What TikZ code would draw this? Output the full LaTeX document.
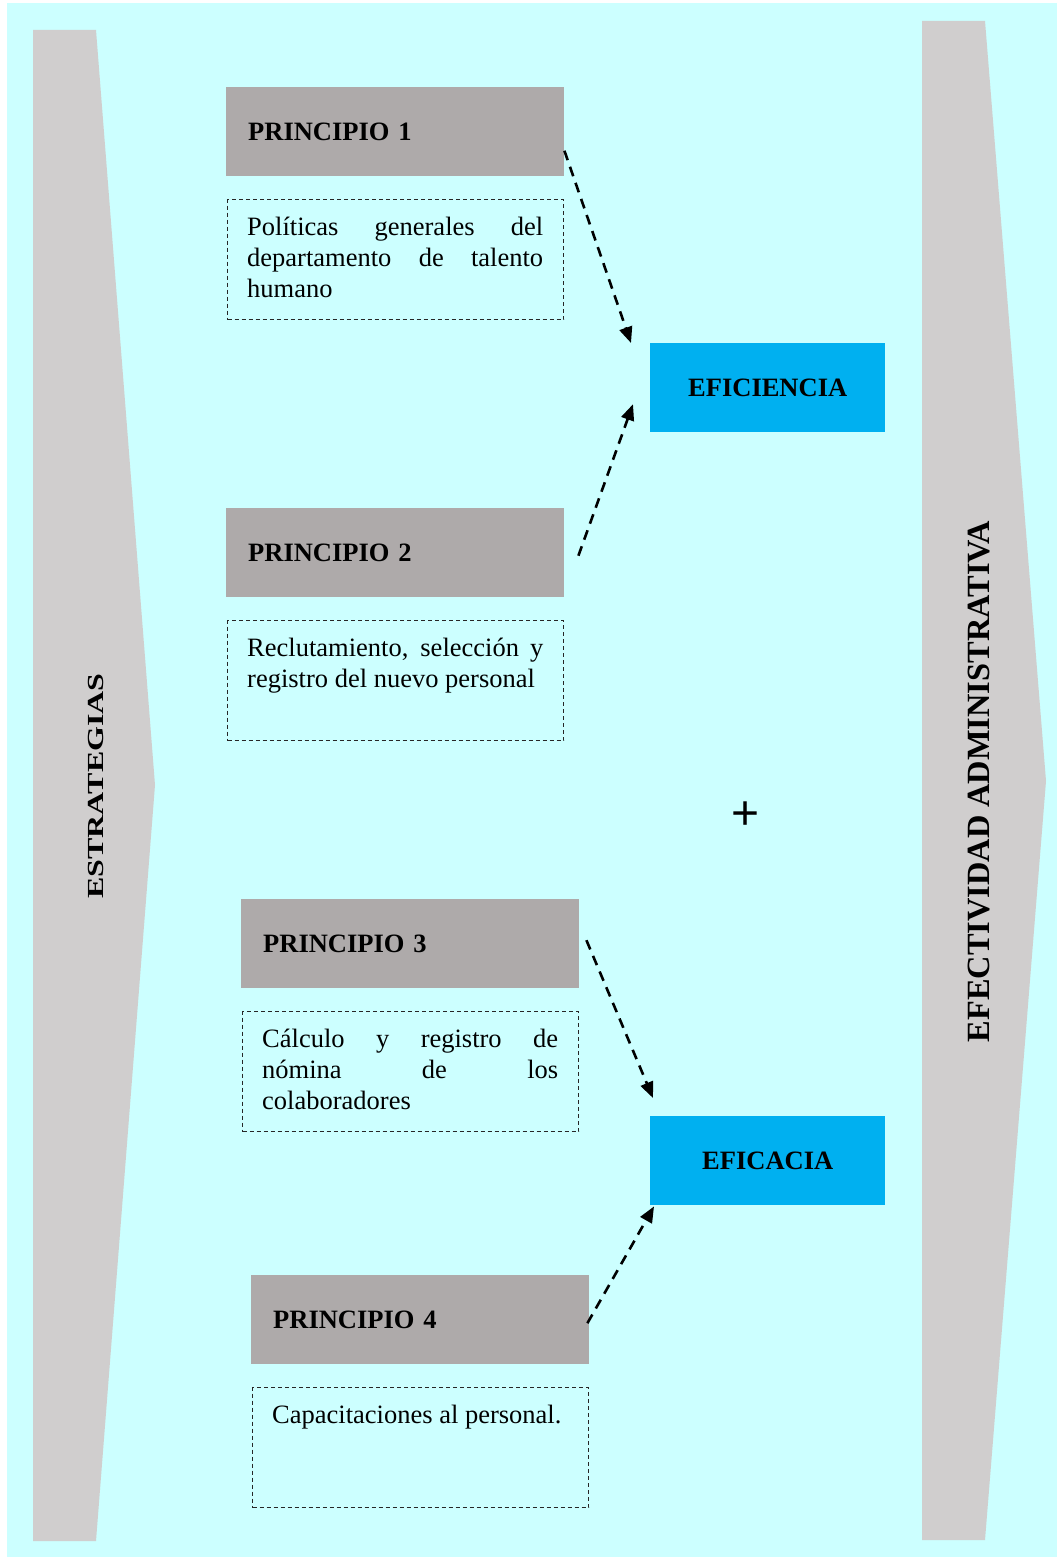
\documentclass[tikz,border=0pt]{standalone}
\usepackage{fontspec}
\setmainfont{Liberation Serif}
\newfontfamily\plusfont{Liberation Sans}
\usetikzlibrary{arrows.meta,calc}

\definecolor{bgcyan}{HTML}{CCFFFF}
\definecolor{bandgray}{HTML}{D0CECE}
\definecolor{princgray}{HTML}{AEAAAA}
\definecolor{resultblue}{HTML}{00B0F0}

\tikzset{
  band/.style={fill=bandgray, draw=none},
  princbox/.style={fill=princgray, draw=none, anchor=north west,
    minimum width=338pt, minimum height=89pt, text width=294pt,
    inner xsep=22pt, align=left, font=\fontsize{26.5}{31}\selectfont\bfseries},
  descbox/.style={draw=black!85, dashed, dash pattern=on 4pt off 3pt,
    line width=1.1pt, anchor=north west, minimum width=336pt,
    minimum height=120pt, inner sep=0pt},
  desctext/.style={anchor=base west, inner sep=0pt},
  resultbox/.style={fill=resultblue, draw=none, anchor=north west,
    minimum width=235pt, minimum height=89pt,
    font=\fontsize{26.5}{31}\selectfont\bfseries},
  flow/.style={dashed, dash pattern=on 10pt off 7pt, line width=2.6pt,
    -{Triangle[length=16pt,width=13pt]}},
}

\newcommand{\desc}[1]{\parbox[t]{296pt}{\fontsize{26.5}{31}\selectfont
  \parindent=0pt\tolerance=10000\hbadness=10000 #1}}

\begin{document}
\begin{tikzpicture}[x=1pt,y=-1pt]
  \useasboundingbox (0,0) rectangle (1059,1557);
  \fill[white] (0,0) rectangle (1059,1557);
  \fill[bgcyan] (7,3) rectangle (1057,1557);

  % side bands
  \fill[band] (33,30) -- (96,30) -- (155,785) -- (96,1541) -- (33,1541) -- cycle;
  \fill[band] (922,21) -- (985,21) -- (1046,781) -- (985,1540) -- (922,1540) -- cycle;
  \node[rotate=90, inner sep=0pt, font=\fontsize{23}{27}\selectfont\bfseries]
        (estr) at (95.5,786) {\scalebox{1.39}[1]{ESTRATEGIAS}};
  \node[rotate=90, inner sep=0pt, font=\fontsize{32.4}{36}\selectfont\bfseries]
        (efect) at (979,781.5) {EFECTIVIDAD ADMINISTRATIVA};

  % principles
  \node[princbox] (p1) at (226,87) {PRINCIPIO 1};
  \node[descbox]  (d1) at (227,199) {};
  \node[desctext] (t1) at ($(d1.north west)+(20,36)$)
    {\desc{Políticas generales del\linebreak departamento de talento\linebreak humano}};

  \node[princbox] (p2) at (226,508) {PRINCIPIO 2};
  \node[descbox]  (d2) at (227,620) {};
  \node[desctext] (t2) at ($(d2.north west)+(20,36)$)
    {\desc{Reclutamiento, selección y\linebreak registro del nuevo personal}};

  \node[princbox] (p3) at (241,899) {PRINCIPIO 3};
  \node[descbox]  (d3) at (242,1011) {};
  \node[desctext] (t3) at ($(d3.north west)+(20,36)$)
    {\desc{Cálculo y registro de\linebreak nómina de los\linebreak colaboradores}};

  \node[princbox] (p4) at (251,1275) {PRINCIPIO 4};
  \node[descbox]  (d4) at (252,1387) {};
  \node[desctext] (t4) at ($(d4.north west)+(20,36)$)
    {\desc{Capacitaciones al personal.}};

  % results
  \node[resultbox] (eff) at (650,343) {EFICIENCIA};
  \node[resultbox] (efa) at (650,1116) {EFICACIA};
  \node[inner sep=0pt, font=\fontsize{48}{50}\selectfont\plusfont] (plus) at (746,816) {+};

  % connectors
  \draw[flow] ($(p1.east)+(0,19)$) -- ($(eff.north west)+(-19,0)$);
  \draw[flow] ($(p2.east)+(14,3)$) -- ($(eff.west)+(-17,16.5)$);
  \draw[flow] ($(p3.east)+(7,-3.5)$) -- ($(efa.north west)+(3,-18)$);
  \draw[flow] ($(p4.east)+(-2,3.5)$) -- ($(efa.south west)+(4,1)$);
\end{tikzpicture}
\end{document}
